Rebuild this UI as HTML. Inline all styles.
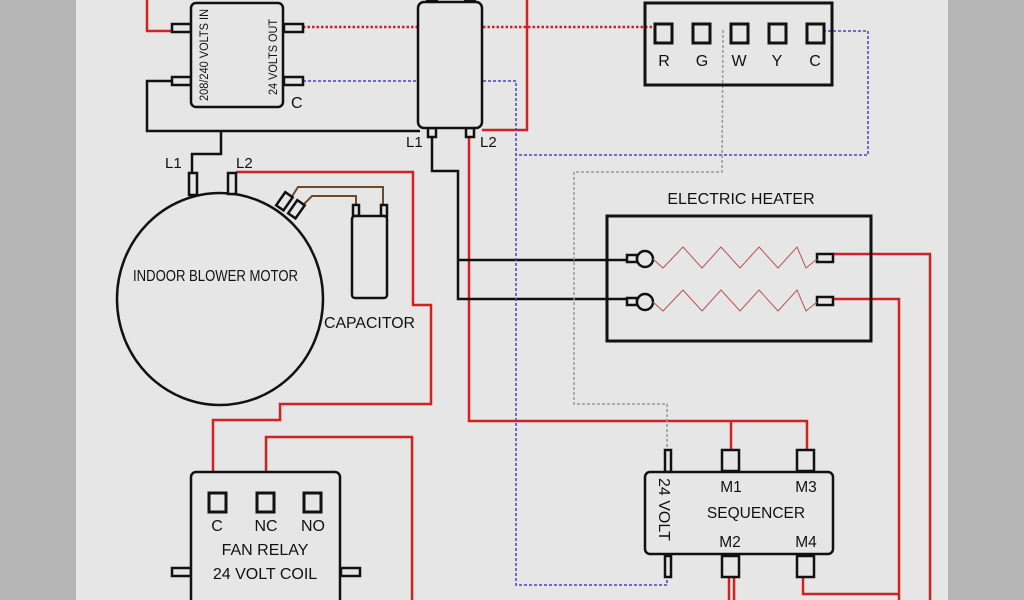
<!DOCTYPE html>
<html><head><meta charset="utf-8"><style>
html,body{margin:0;padding:0;width:1024px;height:600px;overflow:hidden;background:#e6e6e6}
svg{display:block}
text{font-family:"Liberation Sans",sans-serif;fill:#111}
</style></head><body>
<svg width="1024" height="600" viewBox="0 0 1024 600" xmlns="http://www.w3.org/2000/svg">
<rect x="0" y="0" width="1024" height="600" fill="#e6e6e6"/>
<rect x="0" y="0" width="76" height="600" fill="#b6b6b6"/>
<rect x="948" y="0" width="76" height="600" fill="#b6b6b6"/>

<g fill="none" stroke-linejoin="miter">
<g stroke="#d42020" stroke-width="2.5">
<polyline points="147,0 147,31 172,31"/>
<polyline points="482,130 527,130 527,0"/>
<polyline points="236,172 413,172 413,305 431,305 431,404 280,404 280,420 213,420 213,494"/>
<polyline points="266,494 266,437 412,437 412,600"/>
<polyline points="469,138 469,421 807,421 807,451"/>
<polyline points="731,421 731,451"/>
<polyline points="833,254 930,254 930,600"/>
<polyline points="833,299 899,299 899,600"/>
<polyline points="803,577 803,594 899,594"/>
<line x1="729" y1="577" x2="729" y2="600"/>
<line x1="734" y1="577" x2="734" y2="600"/>
</g>
<g stroke="#111" stroke-width="2.5">
<polyline points="172,81 147,81 147,131 420,131"/>
<polyline points="221,131 221,154 192,154 192,174"/>
<polyline points="432,137 432,171 458,171 458,299 628,299"/>
<polyline points="458,260 628,260"/>
</g>
<g stroke="#6b4a2a" stroke-width="2">
<polyline points="291,198 298,187 383,187 383,208"/>
<polyline points="302,206 312,196 356,196 356,208"/>
</g>
<polyline points="303,27 656,27" stroke="#d42020" stroke-width="2.5" stroke-dasharray="2.5,2"/>
<g stroke="#4444cc" stroke-width="1.5" stroke-dasharray="3,2">
<polyline points="303,81 516,81 516,585 667,585 667,577"/>
<polyline points="823,31 868,31 868,155 516,155"/>
</g>
<polyline points="723,30 722,172 574,172 574,404 667,404 667,450" stroke="#999" stroke-width="1.5" stroke-dasharray="3,2"/>
</g>

<g fill="#e6e6e6" stroke="#111" stroke-width="2.5">
<rect x="172" y="24" width="19" height="8"/>
<rect x="172" y="77" width="19" height="8"/>
<rect x="284" y="24" width="19" height="8"/>
<rect x="284" y="77" width="19" height="8"/>
<rect x="191" y="3" width="92" height="104" rx="5"/>
</g>
<text transform="translate(208,101) rotate(-90)" font-size="11.5" textLength="92" lengthAdjust="spacingAndGlyphs">208/240 VOLTS IN</text>
<text transform="translate(277,95) rotate(-90)" font-size="11.5" textLength="76" lengthAdjust="spacingAndGlyphs">24 VOLTS OUT</text>
<text x="291" y="108" font-size="16">C</text>

<g fill="#e6e6e6" stroke="#111" stroke-width="2.5">
<rect x="428" y="128" width="8" height="9"/>
<rect x="466" y="128" width="8" height="9"/>
<rect x="418" y="2" width="64" height="126" rx="6"/>
</g>
<rect x="426" y="0" width="12" height="3" fill="#111"/>
<rect x="464" y="0" width="12" height="3" fill="#111"/>
<text x="406" y="147" font-size="15">L1</text>
<text x="480" y="147" font-size="15">L2</text>

<rect x="645" y="3" width="187" height="82" fill="none" stroke="#111" stroke-width="3"/>
<g fill="none" stroke="#111" stroke-width="3">
<rect x="655" y="24" width="17" height="19"/>
<rect x="693" y="24" width="17" height="19"/>
<rect x="731" y="24" width="17" height="19"/>
<rect x="769" y="24" width="17" height="19"/>
<rect x="807" y="24" width="17" height="19"/>
</g>
<g font-size="16" text-anchor="middle">
<text x="664" y="66">R</text><text x="702" y="66">G</text><text x="739" y="66">W</text><text x="777" y="66">Y</text><text x="815" y="66">C</text>
</g>

<ellipse cx="220" cy="299" rx="103" ry="106" fill="none" stroke="#111" stroke-width="2.5"/>
<g fill="#e6e6e6" stroke="#111" stroke-width="2.5">
<rect x="189" y="173" width="8" height="22"/>
<rect x="228" y="173" width="8" height="21"/>
<rect x="280" y="193" width="9" height="16" transform="rotate(35 284 201)"/>
<rect x="292" y="201" width="9" height="16" transform="rotate(35 296 209)"/>
</g>
<text x="165" y="168" font-size="15">L1</text>
<text x="236" y="168" font-size="15">L2</text>
<text x="133" y="281" font-size="16" textLength="165" lengthAdjust="spacingAndGlyphs">INDOOR BLOWER MOTOR</text>

<g fill="#e6e6e6" stroke="#111" stroke-width="2.5">
<rect x="353" y="205" width="6" height="11"/>
<rect x="381" y="205" width="6" height="11"/>
<rect x="352" y="216" width="35" height="82" rx="3"/>
</g>
<text x="324" y="328" font-size="16" textLength="91" lengthAdjust="spacingAndGlyphs">CAPACITOR</text>

<text x="741" y="204" font-size="16" text-anchor="middle">ELECTRIC HEATER</text>
<rect x="607" y="216" width="264" height="125" fill="none" stroke="#111" stroke-width="3"/>
<g fill="#e6e6e6" stroke="#111" stroke-width="2.5">
<rect x="627" y="255" width="10" height="7"/>
<circle cx="645" cy="259" r="8"/>
<rect x="817" y="254" width="16" height="8"/>
<rect x="627" y="298" width="10" height="7"/>
<circle cx="645" cy="302" r="8"/>
<rect x="817" y="297" width="16" height="8"/>
</g>
<g fill="none" stroke="#c05050" stroke-width="1">
<polyline points="653,259 663,268 683,247 702,268 721,247 740,268 759,247 778,268 797,247 806,268 817,259"/>
<polyline points="653,302 663,311 683,290 702,311 721,290 740,311 759,290 778,311 797,290 806,311 817,302"/>
</g>

<g fill="#e6e6e6" stroke="#111" stroke-width="2.5">
<rect x="665" y="450" width="6" height="22"/>
<rect x="722" y="450" width="17" height="21"/>
<rect x="797" y="450" width="17" height="21"/>
<rect x="665" y="556" width="6" height="21"/>
<rect x="722" y="556" width="17" height="21"/>
<rect x="797" y="556" width="17" height="21"/>
<rect x="645" y="472" width="188" height="82" rx="5"/>
</g>
<text transform="translate(659,478) rotate(90)" font-size="16">24 VOLT</text>
<g font-size="15.5" text-anchor="middle">
<text x="731" y="492">M1</text><text x="806" y="492">M3</text>
<text x="756" y="518">SEQUENCER</text>
<text x="730" y="547">M2</text><text x="806" y="547">M4</text>
</g>

<g fill="#e6e6e6" stroke="#111" stroke-width="2.5">
<rect x="172" y="568" width="19" height="8"/>
<rect x="341" y="568" width="19" height="8"/>
<rect x="191" y="472" width="149" height="140" rx="5"/>
<rect x="209" y="493" width="17" height="19" fill="none" stroke-width="3"/>
<rect x="257" y="493" width="17" height="19" fill="none" stroke-width="3"/>
<rect x="304" y="493" width="17" height="19" fill="none" stroke-width="3"/>
</g>
<g font-size="16" text-anchor="middle">
<text x="217" y="531">C</text><text x="266" y="531">NC</text><text x="313" y="531">NO</text>
<text x="265" y="555">FAN RELAY</text>
<text x="265" y="579">24 VOLT COIL</text>
</g>
</svg>
</body></html>
